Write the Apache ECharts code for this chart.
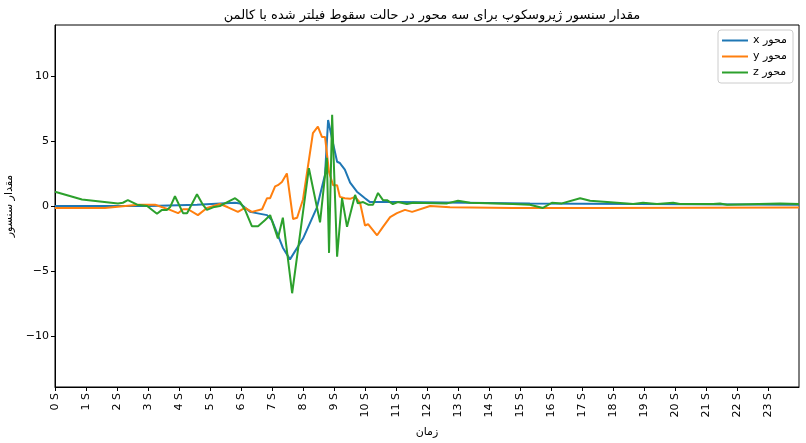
<!DOCTYPE html>
<html>
<head>
<meta charset="utf-8">
<script src="https://cdn.jsdelivr.net/npm/echarts@6/dist/echarts.min.js"></script>
<style>html,body{margin:0;padding:0;background:#fff}#c{width:806px;height:443px}</style>
</head>
<body>
<div id="c"></div>
<script>
const titleText = 'مقدار سنسور ژیروسکوپ برای سه محور در حالت سقوط فیلتر شده با کالمن';
const seriesNames = ['x محور', 'y محور', 'z محور'];
const xTickValues = [0,1,2,3,4,5,6,7,8,9,10,11,12,13,14,15,16,17,18,19,20,21,22,23];
const yTickValues = [-10, -5, 0, 5, 10];

// x axis series (blue)
const xTimes  = [0, 3.06, 4.58, 5.81, 5.97, 6.29, 6.84, 7.0, 7.35, 7.58, 8.0, 8.45, 8.71, 8.81, 8.97, 9.1, 9.19, 9.35, 9.52, 9.74, 10.0, 10.16, 11.13, 15.32, 24.0];
const xValues = [0, 0.0, 0.1, 0.25, 0.2, -0.45, -0.7, -1.1, -3.2, -4.1, -2.5, -0.1, 2.4, 6.6, 4.8, 3.4, 3.3, 2.8, 1.8, 1.1, 0.6, 0.3, 0.3, 0.2, 0.1];

// y axis series (orange)
const yTimes  = [0, 1.61, 2.68, 3.23, 3.71, 3.97, 4.13, 4.29, 4.61, 4.9, 5.32, 5.58, 5.9, 6.13, 6.35, 6.68, 6.84, 6.94, 7.1, 7.19, 7.32, 7.48, 7.68, 7.81, 8.0, 8.32, 8.48, 8.61, 8.71, 8.84, 8.97, 9.1, 9.19, 9.35, 9.52, 9.68, 9.84, 10.0, 10.1, 10.39, 10.58, 10.81, 11.03, 11.29, 11.52, 12.1, 12.74, 14.77, 17.58, 24.0];
const yValues = [-0.15, -0.15, 0.1, 0.1, -0.3, -0.55, -0.25, -0.25, -0.7, -0.15, 0.15, -0.1, -0.45, -0.15, -0.45, -0.25, 0.6, 0.6, 1.5, 1.6, 1.85, 2.5, -1.0, -0.9, 0.5, 5.6, 6.1, 5.3, 5.3, 2.6, 1.6, 1.6, 0.7, 0.6, 0.55, 0.7, 0.25, -1.5, -1.4, -2.25, -1.6, -0.85, -0.55, -0.3, -0.45, 0.0, -0.1, -0.15, -0.15, -0.12];

// z axis series (green)
const zTimes  = [0, 0.87, 2.03, 2.19, 2.35, 2.65, 2.97, 3.29, 3.45, 3.61, 3.71, 3.87, 4.13, 4.26, 4.58, 4.77, 4.9, 5.1, 5.32, 5.48, 5.81, 5.97, 6.13, 6.35, 6.55, 6.77, 6.94, 7.19, 7.35, 7.65, 8.19, 8.55, 8.77, 8.84, 8.94, 9.1, 9.26, 9.42, 9.68, 9.77, 9.94, 10.1, 10.26, 10.42, 10.58, 10.71, 10.9, 11.06, 11.35, 11.55, 12.65, 13.0, 13.39, 14.77, 15.32, 15.74, 16.03, 16.35, 16.94, 17.26, 17.81, 18.65, 18.97, 19.42, 19.94, 20.16, 21.23, 21.45, 21.68, 23.39, 24.0];
const zValues = [1.1, 0.5, 0.2, 0.25, 0.45, 0.1, 0.0, -0.6, -0.3, -0.3, -0.1, 0.75, -0.55, -0.55, 0.9, 0.1, -0.3, -0.1, 0.0, 0.2, 0.6, 0.3, -0.3, -1.55, -1.55, -1.1, -0.7, -2.5, -0.9, -6.7, 2.9, -1.25, 3.7, -3.6, 7.0, -3.9, 0.6, -1.6, 0.85, 0.2, 0.3, 0.1, 0.1, 1.0, 0.45, 0.45, 0.15, 0.3, 0.15, 0.25, 0.2, 0.4, 0.25, 0.15, 0.1, -0.15, 0.25, 0.2, 0.6, 0.4, 0.3, 0.15, 0.25, 0.15, 0.25, 0.15, 0.15, 0.2, 0.1, 0.2, 0.15];

const colors = ['#1f77b4', '#ff7f0e', '#2ca02c'];
const zip = (t, v) => t.map((ti, i) => [ti, v[i]]);
const font = 'DejaVu Sans';

const chart = echarts.init(document.getElementById('c'), null, {renderer: 'canvas'});
chart.setOption({
  animation: false,
  color: colors,
  textStyle: {fontFamily: font},
  title: {
    text: titleText, left: 427, top: 4, textAlign: 'center',
    textStyle: {fontFamily: font, fontSize: 13, fontWeight: 'normal', color: '#000'}
  },
  legend: {
    orient: 'vertical', right: 13, top: 30,
    data: seriesNames,
    icon: 'rect', itemWidth: 26, itemHeight: 2, itemGap: 5,
    backgroundColor: 'rgba(255,255,255,0.8)', borderColor: '#cccccc', borderWidth: 1, borderRadius: 3,
    padding: [5, 6, 5, 4],
    textStyle: {fontFamily: font, fontSize: 11, color: '#000'}
  },
  grid: {left: 55, right: 7, top: 25, bottom: 56, show: true, borderColor: '#000', borderWidth: 1,
    containLabel: false, outerBoundsMode: 'none'},
  xAxis: {
    type: 'value', min: 0, max: 24,
    name: 'زمان', nameLocation: 'middle', nameGap: 40,
    nameTextStyle: {fontFamily: font, fontSize: 11, color: '#000'},
    axisLine: {show: true, onZero: false, lineStyle: {color: '#000', width: 1}},
    axisTick: {show: true, length: 4, lineStyle: {color: '#000'}, customValues: xTickValues},
    axisLabel: {rotate: 90, fontFamily: font, fontSize: 11, color: '#000', margin: 6,
      customValues: xTickValues, formatter: v => v + ' S'},
    splitLine: {show: false}
  },
  yAxis: {
    type: 'value', min: -13.9, max: 13.9,
    name: 'مقدار سنسور', nameLocation: 'middle', nameGap: 35, nameRotate: 90,
    nameTextStyle: {fontFamily: font, fontSize: 11, color: '#000'},
    axisLine: {show: true, onZero: false, lineStyle: {color: '#000', width: 1}},
    axisTick: {show: true, length: 4, lineStyle: {color: '#000'}, customValues: yTickValues},
    axisLabel: {fontFamily: font, fontSize: 11, color: '#000', margin: 6,
      customValues: yTickValues, formatter: v => String(v).replace('-', '\u2212')},
    splitLine: {show: false}
  },
  series: [
    {name: seriesNames[0], type: 'line', data: zip(xTimes, xValues), showSymbol: false, symbol: 'none', lineStyle: {width: 2, color: colors[0]}, itemStyle: {color: colors[0]}},
    {name: seriesNames[1], type: 'line', data: zip(yTimes, yValues), showSymbol: false, symbol: 'none', lineStyle: {width: 2, color: colors[1]}, itemStyle: {color: colors[1]}},
    {name: seriesNames[2], type: 'line', data: zip(zTimes, zValues), showSymbol: false, symbol: 'none', lineStyle: {width: 2, color: colors[2]}, itemStyle: {color: colors[2]}}
  ]
});
</script>
</body>
</html>
